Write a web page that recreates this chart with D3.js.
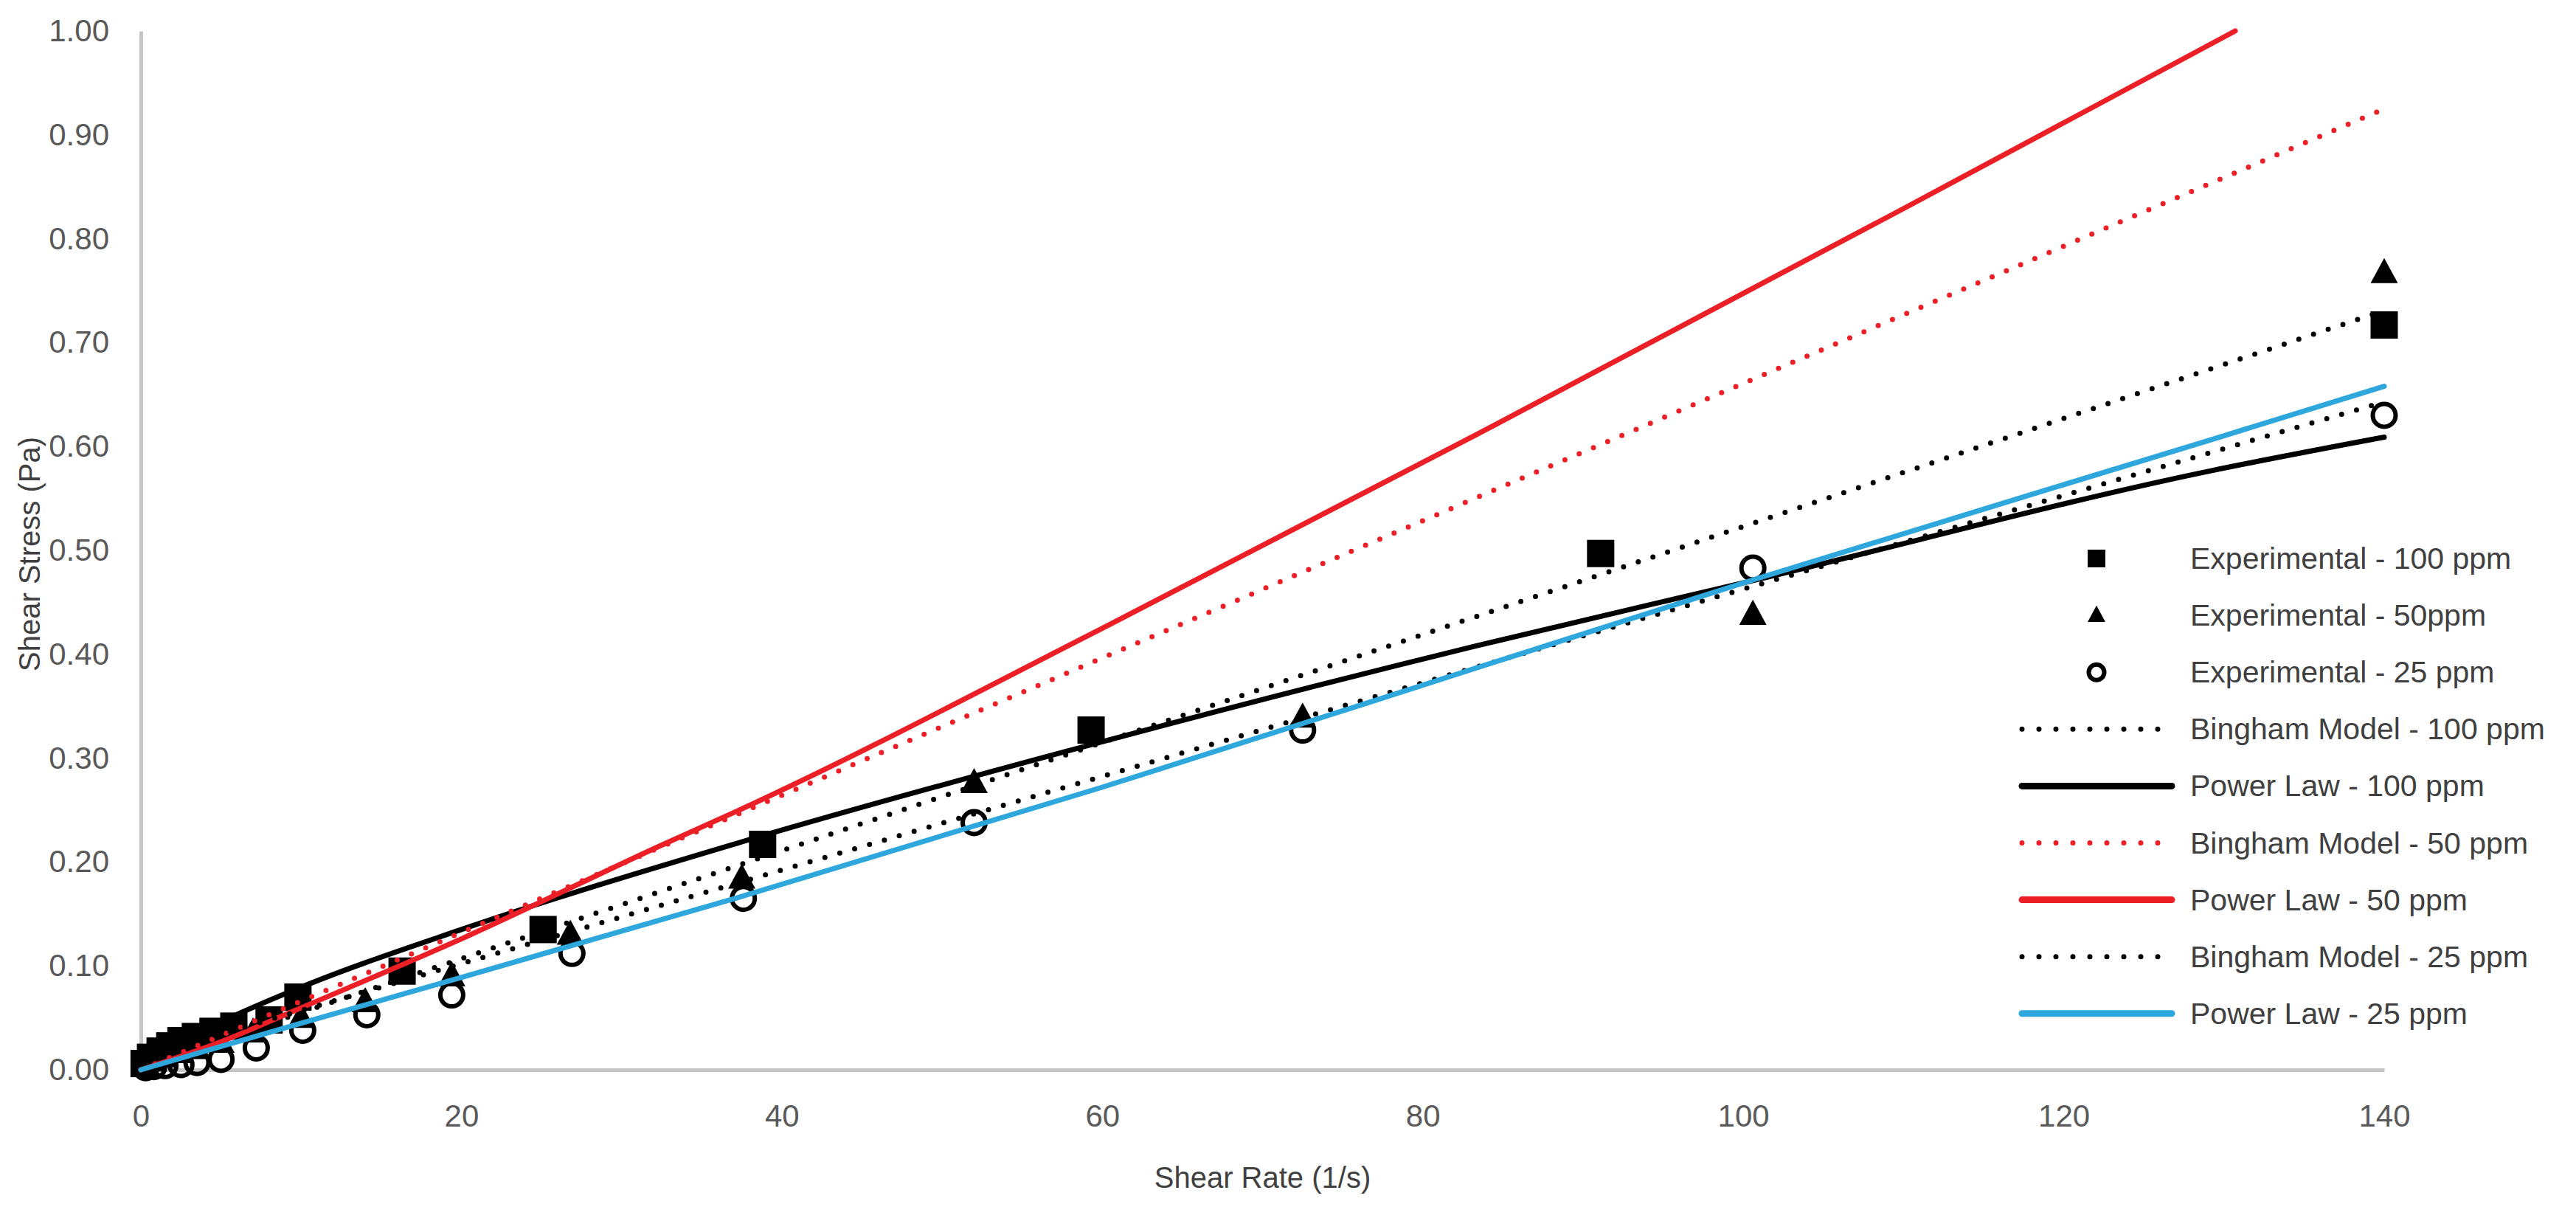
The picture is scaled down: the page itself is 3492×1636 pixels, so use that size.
<!DOCTYPE html>
<html>
<head>
<meta charset="utf-8">
<script src="https://cdn.jsdelivr.net/npm/d3@7"></script>
<style>
  html, body { margin: 0; padding: 0; background: #ffffff; }
  svg { display: block; }
</style>
</head>
<body>
<div id="chart"></div>
<script>
// ---------- data ----------
const xTicks = [0, 20, 40, 60, 80, 100, 120, 140];
const yTicks = [0, 0.1, 0.2, 0.3, 0.4, 0.5, 0.6, 0.7, 0.8, 0.9, 1.0];

// Experimental points
const expRate100 = [0.2, 0.6, 1.2, 1.8, 2.5, 3.4, 4.5, 5.8, 8.0, 9.8, 16.3, 25.1, 38.8, 59.3, 91.1, 140];
const expStress100 = [0.006, 0.012, 0.018, 0.023, 0.028, 0.032, 0.037, 0.042, 0.048, 0.070, 0.095, 0.135, 0.217, 0.327, 0.497, 0.717];

const expRate50 = [0.3, 0.8, 1.5, 2.5, 3.5, 5.0, 7.0, 10.0, 14.0, 19.4, 26.8, 37.5, 52.0, 72.5, 100.6, 140];
const expStress50 = [0.004, 0.008, 0.012, 0.016, 0.020, 0.026, 0.036, 0.050, 0.065, 0.090, 0.130, 0.184, 0.276, 0.339, 0.438, 0.767];

const expRate25 = [0.3, 0.8, 1.5, 2.5, 3.5, 5.0, 7.2, 10.1, 14.1, 19.4, 26.9, 37.6, 52.0, 72.5, 100.6, 140];
const expStress25 = [0.002, 0.003, 0.004, 0.005, 0.007, 0.010, 0.021, 0.038, 0.053, 0.072, 0.112, 0.165, 0.238, 0.327, 0.483, 0.630];

// Model curves
const binghamRate100 = [0, 140];
const binghamStress100 = [0.003, 0.731];
const powerRate100 = [0, 2, 5, 9.6, 20, 37.2, 59.3, 83.3, 100.9, 129.3, 140];
const powerStress100 = [0, 0.022, 0.046, 0.077, 0.135, 0.218, 0.313, 0.408, 0.472, 0.577, 0.609];

const binghamRate50 = [0, 140];
const binghamStress50 = [0.0, 0.925];
const powerRate50 = [0, 5, 9.6, 20, 32.6, 37.2, 60, 83.3, 110, 130.7];
const powerStress50 = [0, 0.027, 0.057, 0.126, 0.217, 0.249, 0.425, 0.611, 0.829, 1.0];

const binghamRate25 = [0, 140];
const binghamStress25 = [0.012, 0.643];
const powerRate25 = [0, 9.6, 37.3, 60, 85, 100.9, 129.3, 140];
const powerStress25 = [0, 0.043, 0.166, 0.272, 0.395, 0.473, 0.607, 0.658];

const seriesNames = [
  "Experimental - 100 ppm",
  "Experimental - 50ppm",
  "Experimental - 25 ppm",
  "Bingham Model - 100 ppm",
  "Power Law - 100 ppm",
  "Bingham Model - 50 ppm",
  "Power Law - 50 ppm",
  "Bingham Model - 25 ppm",
  "Power Law - 25 ppm"
];

// ---------- build series ----------
const zip = (xs, ys) => xs.map((x, i) => ({ x, y: ys[i] }));
const RED = "#ec1f27", BLUE = "#2ea7dd", BLACK = "#000000";

const series = [
  { name: seriesNames[0], type: "marker", shape: "square",   data: zip(expRate100, expStress100) },
  { name: seriesNames[1], type: "marker", shape: "triangle", data: zip(expRate50, expStress50) },
  { name: seriesNames[2], type: "marker", shape: "circle",   data: zip(expRate25, expStress25) },
  { name: seriesNames[3], type: "line", color: BLACK, dotted: true,  data: zip(binghamRate100, binghamStress100) },
  { name: seriesNames[4], type: "line", color: BLACK, dotted: false, data: zip(powerRate100, powerStress100) },
  { name: seriesNames[5], type: "line", color: RED,   dotted: true,  data: zip(binghamRate50, binghamStress50) },
  { name: seriesNames[6], type: "line", color: RED,   dotted: false, data: zip(powerRate50, powerStress50) },
  { name: seriesNames[7], type: "line", color: BLACK, dotted: true,  data: zip(binghamRate25, binghamStress25) },
  { name: seriesNames[8], type: "line", color: BLUE,  dotted: false, data: zip(powerRate25, powerStress25) }
];

// ---------- layout ----------
const W = 3492, H = 1636;
const plot = { left: 191, right: 3232, top: 42, bottom: 1450 };

const svg = d3.select("#chart").append("svg")
  .attr("width", W).attr("height", H)
  .attr("viewBox", `0 0 ${W} ${H}`);

svg.append("rect").attr("width", W).attr("height", H).attr("fill", "#ffffff");

const x = d3.scaleLinear().domain([0, 140]).range([plot.left, plot.right]);
const y = d3.scaleLinear().domain([0, 1]).range([plot.bottom, plot.top]);

const FONT = "'Liberation Sans', Arial, sans-serif";

// axes
const xAxis = d3.axisBottom(x).tickValues(xTicks).tickFormat(d3.format("d")).tickSize(0).tickPadding(47);
const yAxis = d3.axisLeft(y).tickValues(yTicks).tickFormat(d3.format(".2f")).tickSize(0).tickPadding(43);

const gx = svg.append("g").attr("transform", `translate(0,${plot.bottom})`).call(xAxis);
const gy = svg.append("g").attr("transform", `translate(${plot.left},0)`).call(yAxis);

[gx, gy].forEach(g => {
  g.select(".domain").attr("stroke", "#c6c6c6").attr("stroke-width", 5);
  g.selectAll(".tick text")
    .attr("fill", "#595959")
    .style("font-family", FONT)
    .style("font-size", "42px");
});

// axis titles
svg.append("text")
  .attr("x", (plot.left + plot.right) / 2)
  .attr("y", 1610)
  .attr("text-anchor", "middle")
  .attr("fill", "#404040")
  .style("font-family", FONT)
  .style("font-size", "40px")
  .text("Shear Rate (1/s)");

svg.append("text")
  .attr("transform", `translate(54,${(plot.top + plot.bottom) / 2 + 5}) rotate(-90)`)
  .attr("text-anchor", "middle")
  .attr("fill", "#404040")
  .style("font-family", FONT)
  .style("font-size", "40px")
  .text("Shear Stress (Pa)");

// marker drawing helper
function drawMarker(g, shape, cx, cy, s) {
  if (shape === "square") {
    g.append("rect").attr("x", cx - s / 2).attr("y", cy - s / 2)
      .attr("width", s).attr("height", s).attr("fill", BLACK);
  } else if (shape === "triangle") {
    const h = s * 0.92;
    g.append("path")
      .attr("d", `M${cx},${cy - h * 0.6} L${cx + s / 2},${cy + h * 0.4} L${cx - s / 2},${cy + h * 0.4} Z`)
      .attr("fill", BLACK);
  } else {
    g.append("circle").attr("cx", cx).attr("cy", cy).attr("r", s / 2 - 3)
      .attr("fill", "none").attr("stroke", BLACK).attr("stroke-width", 6);
  }
}

const marks = svg.append("g");

// experimental markers
series.filter(s => s.type === "marker").forEach(s => {
  const g = marks.append("g");
  s.data.forEach(d => drawMarker(g, s.shape, x(d.x), y(d.y), 37));
});

// model lines
const lineGen = d3.line().x(d => x(d.x)).y(d => y(d.y)).curve(d3.curveMonotoneX);
series.filter(s => s.type === "line").forEach(s => {
  const p = marks.append("path")
    .datum(s.data)
    .attr("d", lineGen)
    .attr("fill", "none")
    .attr("stroke", s.color)
    .attr("stroke-linecap", "round");
  if (s.dotted) {
    p.attr("stroke-width", 7).attr("stroke-dasharray", "0,21");
  } else {
    p.attr("stroke-width", 7);
  }
});

// legend
const legend = svg.append("g");
const legY0 = 757, legStep = 77.1;
const symX = 2842, lineX0 = 2741, lineX1 = 2944, textX = 2969;
series.forEach((s, i) => {
  const cy = legY0 + i * legStep;
  const g = legend.append("g");
  if (s.type === "marker") {
    const size = s.shape === "circle" ? 27 : 24;
    drawMarker(g, s.shape, symX, cy, size);
  } else {
    const ln = g.append("line")
      .attr("x1", lineX0).attr("x2", lineX1).attr("y1", cy).attr("y2", cy)
      .attr("stroke", s.color).attr("stroke-linecap", "round");
    if (s.dotted) ln.attr("stroke-width", 7).attr("stroke-dasharray", "0,23");
    else ln.attr("stroke-width", 9);
  }
  g.append("text")
    .attr("x", textX).attr("y", cy + 14)
    .attr("fill", "#404040")
    .style("font-family", FONT)
    .style("font-size", "41px")
    .text(s.name);
});
</script>
</body>
</html>
